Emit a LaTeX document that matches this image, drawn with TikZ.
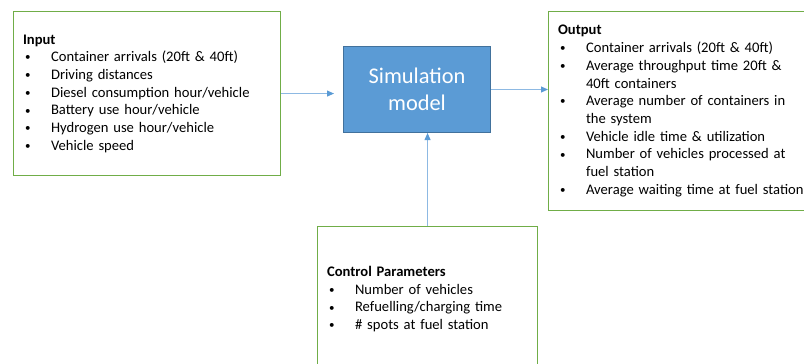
\documentclass[tikz,border=0pt]{standalone}
\usepackage{fontspec}
\setmainfont{Carlito}
\usetikzlibrary{arrows.meta,calc}
\definecolor{boxgreen}{HTML}{70AD47}
\definecolor{simfill}{HTML}{5B9BD5}
\definecolor{simdraw}{HTML}{41719C}
\definecolor{arrline}{HTML}{8DB9E3}
\definecolor{arrhead}{HTML}{5B9BD5}
\newcommand{\bitem}{\\\makebox[28pt][l]{\hspace{2pt}\raisebox{0.8pt}{\fontsize{11}{11}\selectfont\textbullet}}}
\newcommand{\bcont}{\\\hspace*{28pt}}
\begin{document}
\begin{tikzpicture}[x=1pt,y=1pt,
  greenbox/.style={draw=boxgreen,line width=1.1pt,anchor=north west,align=left,
    inner xsep=9.5pt,inner ysep=0pt,font=\fontsize{14.6}{17.7}\selectfont},
  simbox/.style={draw=simdraw,fill=simfill,line width=1pt,minimum width=147pt,
    minimum height=86pt,anchor=north west,align=center,text=white,
    font=\fontsize{22.4}{27}\selectfont,inner sep=0pt},
  flow/.style={draw=arrline,line width=1pt,-{Triangle[length=7pt,width=6pt,fill=arrhead,color=arrhead]}}
]
\useasboundingbox (0,0) rectangle (804,-364);
\clip (0,0) rectangle (804,-364);
\node[greenbox,text width=248pt,minimum height=164pt] (in) at (13,-11)
  {\textbf{Input}\bitem Container arrivals (20ft \& 40ft)\bitem Driving distances\bitem Diesel consumption hour/vehicle\bitem Battery use hour/vehicle\bitem Hydrogen use hour/vehicle\bitem Vehicle speed};
\node[simbox] (sim) at (343,-46) {Simulation\\model};
\node[greenbox,text width=251pt,minimum height=199pt] (out) at (548,-11)
  {\textbf{Output}\bitem Container arrivals (20ft \& 40ft)\bitem Average throughput time 20ft \&\bcont 40ft containers\bitem Average number of containers in\bcont the system\bitem Vehicle idle time \& utilization\bitem Number of vehicles processed at\bcont fuel station\bitem Average waiting time at fuel station};
\node[greenbox,text width=201pt,minimum height=145pt] (ctrl) at (317,-226)
  {\textbf{Control Parameters}\bitem Number of vehicles\bitem Refuelling/charging time\bitem \# spots at fuel station};
\draw[flow,shorten >=9pt] (in.east) -- (sim.west |- in.east);
\draw[flow] (sim.east) -- (out.west |- sim.east);
\draw[flow] (ctrl.north) -- (ctrl.north |- sim.south);
\end{tikzpicture}
\end{document}
